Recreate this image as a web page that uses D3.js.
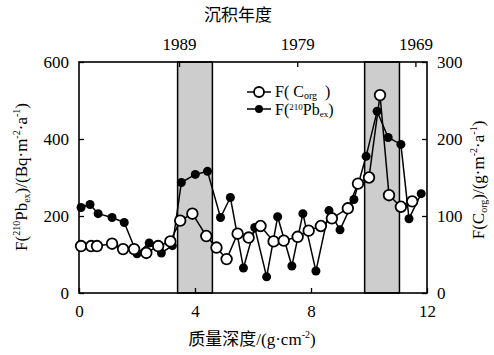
<!DOCTYPE html>
<html>
<head>
<meta charset="utf-8">
<script src="https://cdn.jsdelivr.net/npm/d3@7"></script>
<style>
  body { margin: 0; background: #fff; }
  svg text { fill: #000; }
</style>
</head>
<body>
<svg id="chart" width="494" height="355"></svg>
<script>
// mass depth (g/cm2) and fluxes
var pbDepth = [0.07, 0.38, 0.66, 1.14, 1.56, 2.0, 2.42, 2.84, 3.22, 3.53, 4.01, 4.43, 4.88, 5.22, 5.67,
    6.06, 6.47, 6.85, 7.34, 7.72, 8.17, 8.62, 9.0, 9.48, 9.9, 10.28, 10.66, 11.1, 11.38, 11.8];
var pbFlux = [222, 230, 206, 196, 183, 102, 130, 104, 123, 287, 308, 316, 196, 248, 65,
    170, 42, 198, 70, 206, 57, 214, 164, 243, 355, 472, 404, 386, 193, 258];
var corgDepth = [0.07, 0.42, 0.62, 1.14, 1.52, 1.9, 2.32, 2.73, 3.15, 3.49, 3.91, 4.39, 4.74, 5.09, 5.47,
    5.85, 6.26, 6.71, 7.06, 7.54, 7.92, 8.34, 8.72, 9.27, 9.62, 10.0, 10.38, 10.69, 11.1, 11.49];
var corgFlux = [61, 61, 61, 64, 57, 57, 52, 61, 67, 94, 103, 74, 59, 44, 77,
    72, 87, 67, 68, 73, 81, 87, 97, 110, 142, 150, 257, 127, 112, 119];
var bands = [[3.4, 4.6], [9.85, 11.05]];
var bottomTicks = [0, 4, 8, 12];
var leftTicks = [0, 200, 400, 600];
var rightTicks = [0, 100, 200, 300];
var topYears = [1989, 1979, 1969];
var topYearDepth = [3.45, 11.6]; // depth of 1989 and 1969

(function () {
    'use strict';

    var SERIF = '"Liberation Serif", "Times New Roman", "DejaVu Serif", serif',
        CJK = '"Noto Sans CJK SC", sans-serif',
        svg = d3.select('#chart'),
        left = 79,
        right = 427,
        top = 62,
        bottom = 293,
        x = d3.scaleLinear().domain([0, 12]).range([left, right]),
        yPb = d3.scaleLinear().domain([0, 600]).range([bottom, top]),
        yC = d3.scaleLinear().domain([0, 300]).range([bottom, top]),
        yearX = d3.scaleLinear().domain([1989, 1969]).range(topYearDepth.map(x));

    // shaded bands
    svg.selectAll('rect.band')
        .data(bands)
        .enter()
        .append('rect')
        .attr('class', 'band')
        .attr('x', function (d) { return x(d[0]); })
        .attr('y', top)
        .attr('width', function (d) { return x(d[1]) - x(d[0]); })
        .attr('height', bottom - top)
        .attr('fill', '#cdcdcd')
        .attr('stroke', '#000')
        .attr('stroke-width', 1.5);

    // axes, ticks pointing inward
    function styleAxis(g) {
        g.select('.domain').remove();
        g.selectAll('.tick line').attr('stroke', '#000').attr('stroke-width', 1.3);
        g.selectAll('.tick text').style('font-size', '17px').style('font-family', SERIF);
    }

    svg.append('g')
        .attr('transform', 'translate(0,' + bottom + ')')
        .call(d3.axisBottom(x).tickValues(bottomTicks).tickSize(-5).tickPadding(12))
        .call(styleAxis);

    svg.append('g')
        .attr('transform', 'translate(' + left + ',0)')
        .call(d3.axisLeft(yPb).tickValues(leftTicks).tickSize(-5).tickPadding(10))
        .call(styleAxis);

    svg.append('g')
        .attr('transform', 'translate(' + right + ',0)')
        .call(d3.axisRight(yC).tickValues(rightTicks).tickSize(-5).tickPadding(10))
        .call(styleAxis);

    svg.append('g')
        .attr('transform', 'translate(0,' + top + ')')
        .call(d3.axisTop(yearX).tickValues(topYears).tickFormat(d3.format('d')).tickSize(-5).tickPadding(12))
        .call(styleAxis);

    svg.append('rect')
        .attr('x', left)
        .attr('y', top)
        .attr('width', right - left)
        .attr('height', bottom - top)
        .attr('fill', 'none')
        .attr('stroke', '#000')
        .attr('stroke-width', 1.6);

    // series
    var pbData = pbDepth.map(function (d, i) { return [d, pbFlux[i]]; }),
        cData = corgDepth.map(function (d, i) { return [d, corgFlux[i]]; });

    svg.append('path')
        .datum(pbData)
        .attr('fill', 'none')
        .attr('stroke', '#000')
        .attr('stroke-width', 1.5)
        .attr('d', d3.line().x(function (d) { return x(d[0]); }).y(function (d) { return yPb(d[1]); }));

    svg.append('path')
        .datum(cData)
        .attr('fill', 'none')
        .attr('stroke', '#000')
        .attr('stroke-width', 1.5)
        .attr('d', d3.line().x(function (d) { return x(d[0]); }).y(function (d) { return yC(d[1]); }));

    svg.selectAll('circle.pb')
        .data(pbData)
        .enter()
        .append('circle')
        .attr('class', 'pb')
        .attr('cx', function (d) { return x(d[0]); })
        .attr('cy', function (d) { return yPb(d[1]); })
        .attr('r', 4.5)
        .attr('fill', '#000');

    svg.selectAll('circle.corg')
        .data(cData)
        .enter()
        .append('circle')
        .attr('class', 'corg')
        .attr('cx', function (d) { return x(d[0]); })
        .attr('cy', function (d) { return yC(d[1]); })
        .attr('r', 5.3)
        .attr('fill', '#fff')
        .attr('stroke', '#000')
        .attr('stroke-width', 1.8);

    // legend
    var lg = svg.append('g').attr('transform', 'translate(247,92)');
    lg.append('line').attr('x1', 0).attr('x2', 24).attr('y1', 0).attr('y2', 0)
        .attr('stroke', '#000').attr('stroke-width', 1.5);
    lg.append('circle').attr('cx', 12).attr('cy', 0).attr('r', 5)
        .attr('fill', '#fff').attr('stroke', '#000').attr('stroke-width', 1.8);
    lg.append('line').attr('x1', 0).attr('x2', 24).attr('y1', 17).attr('y2', 17)
        .attr('stroke', '#000').attr('stroke-width', 1.5);
    lg.append('circle').attr('cx', 12).attr('cy', 17).attr('r', 4).attr('fill', '#000');

    var t1 = lg.append('text').attr('x', 28).attr('y', 5).style('font-size', '16px').style('font-family', SERIF);
    t1.append('tspan').text('F( C');
    t1.append('tspan').style('font-size', '10px').attr('dy', 2).text('org');
    t1.append('tspan').attr('dy', -2).attr('dx', 8).text(')');

    var t2 = lg.append('text').attr('x', 28).attr('y', 23).style('font-size', '16px').style('font-family', SERIF);
    t2.append('tspan').text('F(');
    t2.append('tspan').style('font-size', '9px').attr('dy', -5).text('210');
    t2.append('tspan').attr('dy', 5).text('Pb');
    t2.append('tspan').style('font-size', '9px').attr('dy', 2).text('ex');
    t2.append('tspan').attr('dy', -2).text(')');

    // axis titles
    svg.append('text')
        .attr('x', 238)
        .attr('y', 21)
        .attr('text-anchor', 'middle')
        .style('font-size', '17px')
        .style('font-family', CJK)
        .text('沉积年度');

    var bt = svg.append('text')
        .attr('x', 252)
        .attr('y', 345)
        .attr('text-anchor', 'middle')
        .style('font-size', '17px')
        .style('font-family', SERIF);
    bt.append('tspan').style('font-family', CJK).text('质量深度');
    bt.append('tspan').text('/(g·cm');
    bt.append('tspan').style('font-size', '10px').attr('dy', -7).text('-2');
    bt.append('tspan').attr('dy', 7).text(')');

    var lt = svg.append('text')
        .attr('transform', 'translate(27,177) rotate(-90)')
        .attr('text-anchor', 'middle')
        .style('font-size', '17px')
        .style('font-family', SERIF);
    lt.append('tspan').text('F(');
    lt.append('tspan').style('font-size', '10px').attr('dy', -7).text('210');
    lt.append('tspan').attr('dy', 7).text('Pb');
    lt.append('tspan').style('font-size', '10px').attr('dy', 3).text('ex');
    lt.append('tspan').attr('dy', -3).text(')/(Bq·m');
    lt.append('tspan').style('font-size', '10px').attr('dy', -7).text('-2');
    lt.append('tspan').attr('dy', 7).text('·a');
    lt.append('tspan').style('font-size', '10px').attr('dy', -7).text('-1');
    lt.append('tspan').attr('dy', 7).text(')');

    var rt = svg.append('text')
        .attr('transform', 'translate(484,180) rotate(-90)')
        .attr('text-anchor', 'middle')
        .style('font-size', '17px')
        .style('font-family', SERIF);
    rt.append('tspan').text('F(C');
    rt.append('tspan').style('font-size', '10px').attr('dy', 3).text('org');
    rt.append('tspan').attr('dy', -3).text(')/(g·m');
    rt.append('tspan').style('font-size', '10px').attr('dy', -7).text('-2');
    rt.append('tspan').attr('dy', 7).text('·a');
    rt.append('tspan').style('font-size', '10px').attr('dy', -7).text('-1');
    rt.append('tspan').attr('dy', 7).text(')');
}());
</script>
</body>
</html>
